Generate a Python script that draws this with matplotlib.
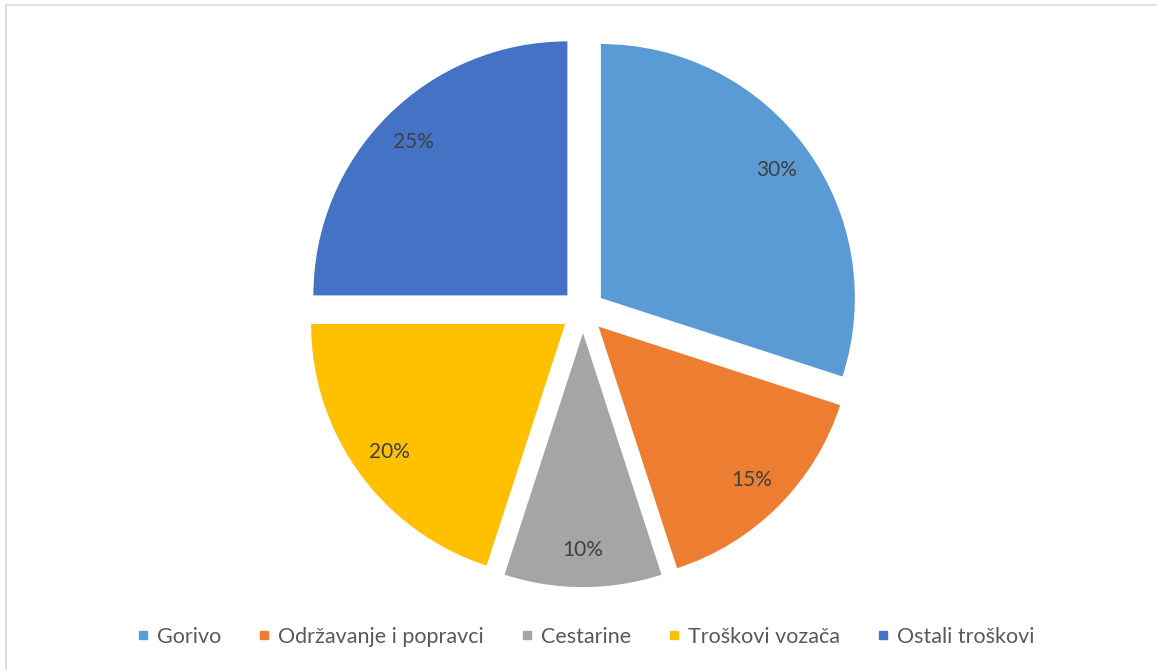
import matplotlib.pyplot as plt
from matplotlib.lines import Line2D
from matplotlib.patches import Rectangle

categories = ["Gorivo", "Održavanje i popravci", "Cestarine", "Troškovi vozača", "Ostali troškovi"]
shares = [30, 15, 10, 20, 25]
colors = ["#5B9BD5", "#ED7D31", "#A5A5A5", "#FFC000", "#4472C4"]

plt.rcParams['font.family'] = ['Lato', 'DejaVu Sans']

W, H = 1157, 670
fig = plt.figure(figsize=(W / 100, H / 100), dpi=100)

# pie centre and radius in pixels
cx, cy, r = 583, 311, 254
span = 1.2
aw = 2 * span * r
ax = fig.add_axes([(cx - aw / 2) / W, 1 - (cy + aw / 2) / H, aw / W, aw / H])

wedges, texts, autotexts = ax.pie(
    shares, colors=colors, startangle=90, counterclock=False,
    explode=[0.087] * len(shares), autopct='%1.0f%%', pctdistance=0.855,
    wedgeprops=dict(linewidth=0),
    textprops=dict(color='#404040', fontsize=15))
ax.set_xlim(-span, span)
ax.set_ylim(-span, span)
ax.set_aspect('equal')
ax.axis('off')

# legend
handles = [Line2D([], [], marker='s', linestyle='none', markersize=5.8,
                  markerfacecolor=c, markeredgecolor=c) for c in colors]
fig.legend(handles, categories, loc='center', ncol=5, frameon=False,
           bbox_to_anchor=(586 / W, 1 - 637 / H),
           fontsize=15.5, labelcolor='#595959', handlelength=0.5,
           handletextpad=0.4, columnspacing=1.75)

# chart border
fig.patches.append(Rectangle((6 / W, -0.05), 1.1, 1 - 5 / H + 0.05,
                             transform=fig.transFigure, fill=False,
                             edgecolor='#D9D9D9', linewidth=1.2))

fig.savefig('out.png', dpi=100)
